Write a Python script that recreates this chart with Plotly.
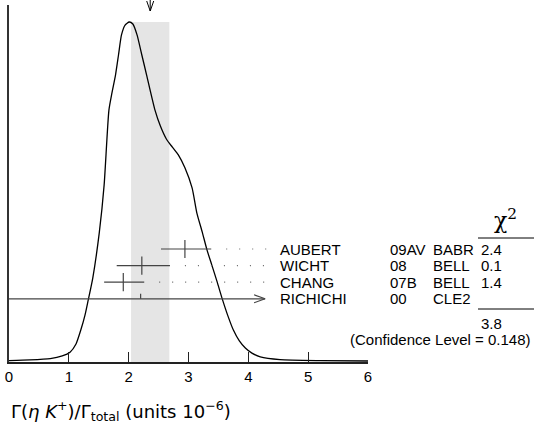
import plotly.graph_objects as go

# ---------------- data ----------------
curve_x = [0.00, 0.35, 0.69, 0.89, 1.02, 1.12, 1.20, 1.27, 1.32, 1.40, 1.51, 1.59, 1.67, 1.72,
           1.78, 1.83, 1.88, 1.94, 2.01, 2.07, 2.14, 2.22, 2.30, 2.44, 2.53, 2.63, 2.73, 2.83,
           2.94, 3.06, 3.14, 3.23, 3.31, 3.39, 3.48, 3.56, 3.66, 3.75, 3.85, 3.95, 4.06, 4.20,
           4.53, 5.20, 6.00]
curve_y = [0.004, 0.006, 0.010, 0.018, 0.029, 0.053, 0.094, 0.138, 0.179, 0.247, 0.382, 0.521,
           0.741, 0.791, 0.844, 0.903, 0.962, 0.991, 1.000, 0.994, 0.962, 0.903, 0.844, 0.741,
           0.694, 0.656, 0.632, 0.609, 0.571, 0.512, 0.438, 0.382, 0.329, 0.285, 0.235, 0.188,
           0.135, 0.094, 0.062, 0.041, 0.026, 0.015, 0.007, 0.004, 0.003]

names = ["AUBERT", "WICHT", "CHANG", "RICHICHI"]
years = ["09AV", "08", "07B", "00"]
experiments = ["BABR", "BELL", "BELL", "CLE2"]
values = [2.94, 2.22, 1.91, 2.20]
err_lo = [0.40, 0.42, 0.32, 2.20]
err_hi = [0.44, 0.47, 0.35, 2.08]
truncated = [False, False, False, True]
chi2 = ["2.4", "0.1", "1.4", ""]
chi2_total = "3.8"
confidence_level = "0.148"
avg_value = 2.36
avg_error = 0.32
x_ticks = [0, 1, 2, 3, 4, 5, 6]

# ---------------- geometry ----------------
W, H = 534, 430
ML, MR, MT, MB = 9, 166, 5, 68
PW, PH = W - ML - MR, H - MT - MB
X_RANGE = [0, 6]
Y_RANGE = [0, 1.05]
XPX = PW / (X_RANGE[1] - X_RANGE[0])
YPX = PH / (Y_RANGE[1] - Y_RANGE[0])


def paper_x(px):
    return (px - ML) / PW


def paper_y(py):
    return (H - MB - py) / PH


def data_y(py):
    return (H - MB - py) / YPX


row_y = [data_y(249 + 16.6 * i) for i in range(len(names))]
leader_end = 4.38
err_color = "#444444"

fig = go.Figure()

# ideogram curve
fig.add_trace(go.Scatter(x=curve_x, y=curve_y, mode="lines",
                         line=dict(color="black", width=1.3, shape="spline", smoothing=0.6),
                         hoverinfo="skip", showlegend=False))

# measurements
for i in range(len(names)):
    y = row_y[i]
    v = values[i]
    if not truncated[i]:
        fig.add_trace(go.Scatter(
            x=[v], y=[y], mode="markers",
            marker=dict(symbol="line-ns-open", size=13, color=err_color,
                        line=dict(color=err_color, width=1.2)),
            error_x=dict(type="data", symmetric=False, array=[err_hi[i]], arrayminus=[err_lo[i]],
                         color=err_color, thickness=1.2, width=0),
            hoverinfo="skip", showlegend=False))
        fig.add_trace(go.Scatter(
            x=[v + err_hi[i] + 0.25, leader_end], y=[y, y], mode="lines",
            line=dict(color="#666666", width=1.2, dash="1px,12px"),
            hoverinfo="skip", showlegend=False))
    else:
        x0, x1 = v - err_lo[i], v + err_hi[i]
        fig.add_trace(go.Scatter(x=[x0, x1], y=[y, y], mode="lines",
                                 line=dict(color=err_color, width=1.2),
                                 hoverinfo="skip", showlegend=False))
        # small tick above the line at the central value
        fig.add_trace(go.Scatter(x=[v, v], y=[y, y + 5 / YPX], mode="lines",
                                 line=dict(color=err_color, width=1.2),
                                 hoverinfo="skip", showlegend=False))
        # open arrow head
        fig.add_trace(go.Scatter(x=[x1 - 11 / XPX, x1, x1 - 11 / XPX],
                                 y=[y + 4 / YPX, y, y - 4 / YPX], mode="lines",
                                 line=dict(color=err_color, width=1.2),
                                 hoverinfo="skip", showlegend=False))

shapes = []
# weighted-average band
shapes.append(dict(type="rect", xref="x", yref="y", x0=avg_value - avg_error,
                   x1=avg_value + avg_error, y0=0, y1=max(curve_y),
                   fillcolor="#e5e5e5", line=dict(width=0), layer="below"))
# average arrow at top
tip = paper_y(11)
top = paper_y(0)
dx = 3.5 / XPX
shapes.append(dict(type="line", xref="x", yref="paper", x0=avg_value, x1=avg_value,
                   y0=top, y1=tip, line=dict(color="black", width=1)))
shapes.append(dict(type="path", xref="x", yref="paper",
                   path=f"M{avg_value - dx},{paper_y(1)} L{avg_value},{tip} L{avg_value + dx},{paper_y(1)}",
                   line=dict(color="black", width=1)))
# chi2 rules
for py in (238, 309):
    shapes.append(dict(type="line", xref="paper", yref="paper", x0=paper_x(478), x1=paper_x(534),
                       y0=paper_y(py), y1=paper_y(py), line=dict(color="black", width=1)))

label_font = dict(family="Liberation Sans, Arial, sans-serif", size=15, color="black")
annotations = []
for i in range(len(names)):
    py = 249 + 16.6 * i
    annotations.append(dict(x=paper_x(278), y=paper_y(py), xref="paper", yref="paper",
                            text=names[i], showarrow=False, xanchor="left", yanchor="middle",
                            font=label_font))
    annotations.append(dict(x=paper_x(388), y=paper_y(py), xref="paper", yref="paper",
                            text=years[i], showarrow=False, xanchor="left", yanchor="middle",
                            font=label_font))
    annotations.append(dict(x=paper_x(431), y=paper_y(py), xref="paper", yref="paper",
                            text=experiments[i], showarrow=False, xanchor="left", yanchor="middle",
                            font=label_font))
    if chi2[i]:
        annotations.append(dict(x=paper_x(492), y=paper_y(py), xref="paper", yref="paper",
                                text=chi2[i], showarrow=False, xanchor="center", yanchor="middle",
                                font=label_font))
annotations.append(dict(x=paper_x(505), y=paper_y(219), xref="paper", yref="paper",
                        text="χ<sup>2</sup>", showarrow=False, xanchor="center", yanchor="middle",
                        font=dict(family="DejaVu Serif, serif", size=22, color="black")))
annotations.append(dict(x=paper_x(492), y=paper_y(323), xref="paper", yref="paper",
                        text=chi2_total, showarrow=False, xanchor="center", yanchor="middle",
                        font=label_font))
annotations.append(dict(x=paper_x(533), y=paper_y(339), xref="paper", yref="paper",
                        text=f"(Confidence Level = {confidence_level})", showarrow=False,
                        xanchor="right", yanchor="middle", font=label_font))
annotations.append(dict(x=paper_x(9), y=paper_y(411), xref="paper", yref="paper",
                        text="Γ(<i>η K</i><sup>+</sup>)/Γ<sub>total</sub> (units 10<sup>−6</sup>)",
                        showarrow=False, xanchor="left", yanchor="middle",
                        font=dict(family="DejaVu Sans, sans-serif", size=18, color="black")))

fig.update_layout(
    width=W, height=H,
    margin=dict(l=ML, r=MR, t=MT, b=MB, pad=0),
    paper_bgcolor="white", plot_bgcolor="white",
    shapes=shapes, annotations=annotations,
    xaxis=dict(range=X_RANGE, tickvals=x_ticks, ticktext=[str(t) for t in x_ticks],
               ticks="inside", ticklen=10, tickwidth=1.3, tickcolor="#222222",
               showline=True, linecolor="#222222", linewidth=1.5,
               showgrid=False, zeroline=False,
               tickfont=dict(family="Liberation Sans, Arial, sans-serif", size=15, color="black")),
    yaxis=dict(range=Y_RANGE, showline=True, linecolor="#333333", linewidth=1.5,
               ticks="", showticklabels=False, showgrid=False, zeroline=False),
    showlegend=False,
)

fig.write_html("out.html", config={"displayModeBar": False},
               post_script="document.body.style.margin='0';document.body.style.padding='0';")
